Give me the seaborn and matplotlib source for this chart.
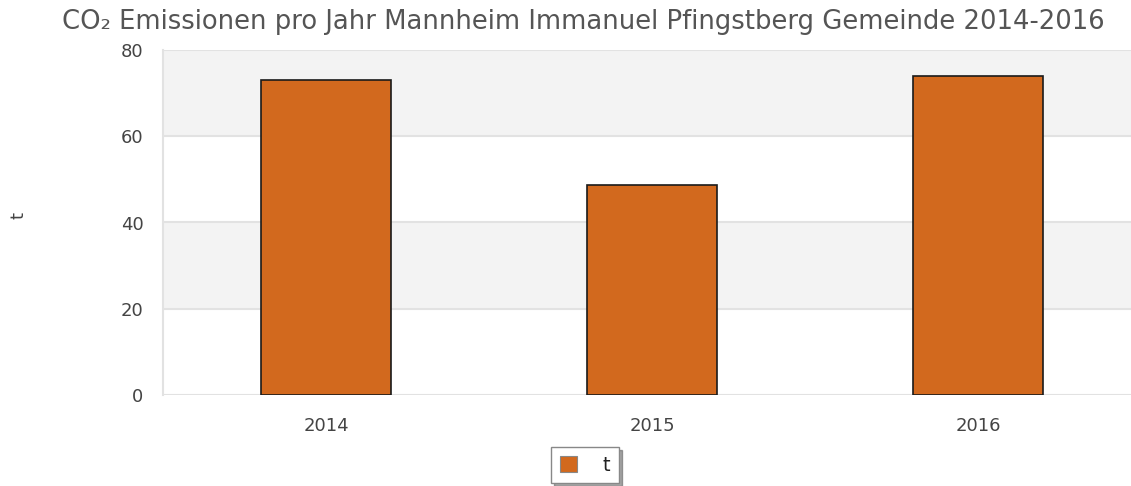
import matplotlib.pyplot as plt
import pandas as pd
import seaborn as sns

# Data
years = ["2014", "2015", "2016"]
emissions = [73.0, 48.7, 74.0]
y_ticks = [0, 20, 40, 60, 80]

df = pd.DataFrame({"Jahr": years, "t": emissions})

sns.set_theme(style="white")
plt.rcParams["font.family"] = ["DejaVu Sans"]

fig = plt.figure(figsize=(11.31, 4.86), dpi=100)
ax = fig.add_axes([163 / 1131, 1 - 395 / 486, 978 / 1131, 345 / 486])

# Alternating horizontal bands
for i, (lo, hi) in enumerate(zip(y_ticks[:-1], y_ticks[1:])):
    if i % 2 == 1:
        ax.axhspan(lo, hi, color="#f3f3f3", zorder=0, lw=0)
for y in y_ticks:
    ax.axhline(y, color="#e2e2e2", lw=1.5, zorder=0.5)

sns.barplot(
    data=df,
    x="Jahr",
    y="t",
    color="#d2691e",
    saturation=1,
    width=0.4,
    edgecolor="#1a1a1a",
    linewidth=1.2,
    label="t",
    ax=ax,
    zorder=2,
)

ax.set_xlim(-0.5, 2.5)
ax.set_ylim(0, 80)
ax.set_yticks(y_ticks)
ax.tick_params(axis="both", length=0, labelsize=13, labelcolor="#444444")
ax.tick_params(axis="x", pad=16)
ax.tick_params(axis="y", pad=14)
ax.set_xlabel("")
ax.set_ylabel("")

for side in ["top", "right", "bottom"]:
    ax.spines[side].set_visible(False)
ax.spines["left"].set_color("#e2e2e2")
ax.spines["left"].set_linewidth(1.5)

fig.text(18 / 1131, 1 - 215 / 486, "t", rotation=90, ha="center", va="center",
         fontsize=13, color="#444444")
fig.text(583 / 1131, 1 - 22 / 486,
         "CO₂ Emissionen pro Jahr Mannheim Immanuel Pfingstberg Gemeinde 2014-2016",
         ha="center", va="center", fontsize=18.6, color="#555555")

if ax.get_legend():
    ax.get_legend().remove()
handles, labels = ax.get_legend_handles_labels()
leg = fig.legend(
    handles,
    labels,
    loc="center",
    bbox_to_anchor=(585 / 1131, 1 - 465 / 486),
    frameon=True,
    fancybox=False,
    shadow=True,
    handlelength=0.9,
    handleheight=0.9,
    fontsize=14,
    borderpad=0.45,
    handletextpad=1.3,
    borderaxespad=0,
)
leg.get_frame().set_edgecolor("#888888")
for text in leg.get_texts():
    text.set_color("#222222")
for h in leg.legend_handles:
    h.set_edgecolor("#888888")
    h.set_linewidth(0.8)

fig.savefig("out.png", dpi=100)
plt.close(fig)
